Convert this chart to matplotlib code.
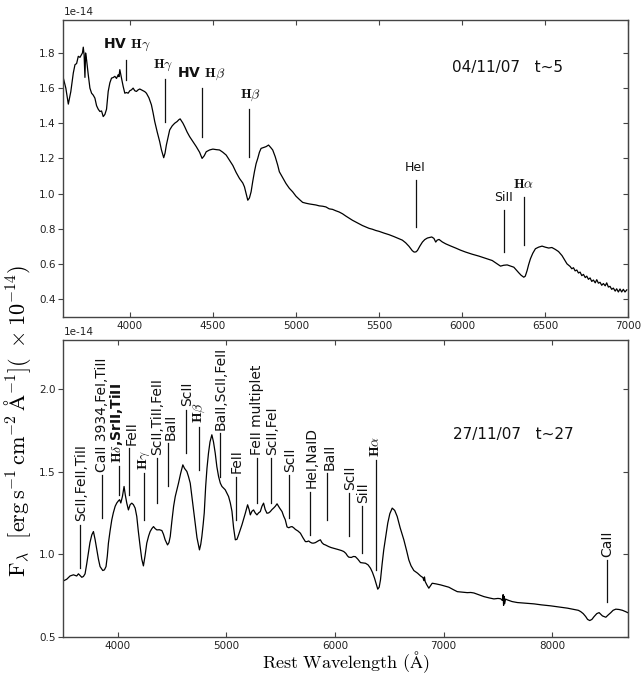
import matplotlib
matplotlib.use("Agg")
import matplotlib.pyplot as plt
from matplotlib.ticker import ScalarFormatter, NullFormatter, FixedLocator

plt.rcParams['mathtext.fontset'] = 'cm'
plt.rcParams['axes.unicode_minus'] = False
plt.rcParams['font.family'] = ['DejaVu Sans']

# ---------------- data (flux in units of 1e-14) ----------------
wave_top = [3600, 3615, 3630, 3645, 3660, 3670, 3680, 3690, 3700, 3710, 3715, 3720, 3725, 3730, 3734,
            3740, 3750, 3760, 3770, 3780, 3790, 3800, 3810, 3820, 3830, 3840, 3850, 3860, 3870, 3880,
            3890, 3900, 3910, 3920, 3930, 3935, 3940, 3945, 3950, 3960, 3970, 3980, 3990, 4000, 4010,
            4020, 4030, 4040, 4050, 4060, 4070, 4080, 4090, 4100, 4115, 4130, 4140, 4150, 4165, 4180,
            4190, 4204, 4212, 4220, 4230, 4240, 4255, 4270, 4285, 4295, 4303, 4310, 4320, 4330, 4345,
            4360, 4380, 4400, 4420, 4435, 4448, 4460, 4480, 4500, 4520, 4540, 4560, 4580, 4600, 4620,
            4640, 4660, 4680, 4690, 4700, 4710, 4720, 4730, 4740, 4750, 4760, 4770, 4780, 4790, 4805,
            4820, 4835, 4848, 4860, 4875, 4890, 4900, 4920, 4940, 4960, 4980, 5000, 5020, 5040, 5060,
            5080, 5100, 5120, 5140, 5160, 5180, 5200, 5220, 5240, 5260, 5280, 5300, 5320, 5340, 5360,
            5380, 5400, 5420, 5440, 5460, 5480, 5500, 5530, 5560, 5590, 5620, 5640, 5660, 5680, 5700,
            5711, 5722, 5731, 5745, 5761, 5775, 5791, 5805, 5817, 5830, 5841, 5850, 5861, 5880, 5901,
            5930, 5961, 5990, 6021, 6060, 6101, 6140, 6181, 6210, 6231, 6250, 6271, 6290, 6311, 6325,
            6341, 6355, 6371, 6380, 6391, 6400, 6411, 6425, 6441, 6460, 6481, 6500, 6521, 6540, 6561,
            6580, 6601, 6615, 6631, 6650, 6660, 6670, 6680, 6690, 6700, 6710, 6720, 6730, 6741, 6750,
            6760, 6770, 6780, 6790, 6801, 6810, 6820, 6830, 6840, 6850, 6861, 6870, 6880, 6890, 6900,
            6910, 6921, 6930, 6940, 6950, 6960, 6970, 6980, 6991]
flux_top = [1.657, 1.60, 1.509, 1.58, 1.686, 1.733, 1.74, 1.781, 1.775, 1.791, 1.80, 1.833, 1.79, 1.661, 1.80,
            1.76, 1.676, 1.60, 1.571, 1.56, 1.543, 1.50, 1.48, 1.467, 1.47, 1.438, 1.45, 1.48, 1.581, 1.63,
            1.657, 1.66, 1.667, 1.655, 1.676, 1.665, 1.705, 1.68, 1.657, 1.61, 1.571, 1.575, 1.571, 1.585, 1.59,
            1.600, 1.585, 1.581, 1.59, 1.595, 1.590, 1.585, 1.58, 1.571, 1.545, 1.505, 1.46, 1.410, 1.35, 1.295,
            1.25, 1.204, 1.23, 1.276, 1.32, 1.362, 1.385, 1.400, 1.41, 1.42, 1.425, 1.415, 1.40, 1.381, 1.35,
            1.324, 1.295, 1.267, 1.235, 1.200, 1.215, 1.238, 1.248, 1.253, 1.25, 1.248, 1.235, 1.219, 1.19, 1.16,
            1.12, 1.086, 1.06, 1.038, 1.00, 0.962, 0.975, 1.010, 1.07, 1.124, 1.17, 1.20, 1.235, 1.257, 1.262,
            1.267, 1.276, 1.262, 1.248, 1.21, 1.162, 1.124, 1.09, 1.057, 1.03, 1.010, 0.985, 0.967, 0.950, 0.945,
            0.941, 0.938, 0.935, 0.930, 0.928, 0.924, 0.913, 0.910, 0.902, 0.895, 0.885, 0.872, 0.860, 0.848, 0.838,
            0.828, 0.818, 0.810, 0.802, 0.797, 0.790, 0.785, 0.775, 0.766, 0.755, 0.743, 0.735, 0.720, 0.700, 0.675,
            0.667, 0.668, 0.676, 0.700, 0.724, 0.738, 0.747, 0.750, 0.753, 0.745, 0.724, 0.735, 0.739, 0.725, 0.714,
            0.702, 0.690, 0.678, 0.667, 0.655, 0.644, 0.632, 0.619, 0.600, 0.587, 0.592, 0.594, 0.588, 0.581, 0.566,
            0.549, 0.535, 0.524, 0.530, 0.562, 0.595, 0.629, 0.660, 0.686, 0.695, 0.701, 0.695, 0.690, 0.693, 0.682,
            0.670, 0.647, 0.625, 0.600, 0.585, 0.572, 0.578, 0.560, 0.565, 0.548, 0.553, 0.533, 0.540, 0.522, 0.530,
            0.512, 0.520, 0.500, 0.508, 0.492, 0.510, 0.490, 0.495, 0.478, 0.488, 0.475, 0.492, 0.468, 0.472, 0.455,
            0.462, 0.445, 0.458, 0.440, 0.457, 0.440, 0.455, 0.440, 0.452]

wave_bot = [3500, 3531, 3562, 3593, 3623, 3639, 3655, 3670, 3685, 3700, 3715, 3730, 3745, 3762, 3777,
            3792, 3808, 3823, 3838, 3863, 3878, 3893, 3905, 3915, 3930, 3946, 3960, 3977, 3992, 4007,
            4018, 4029, 4044, 4059, 4070, 4084, 4099, 4115, 4130, 4145, 4161, 4176, 4190, 4207, 4222,
            4237, 4252, 4268, 4285, 4299, 4315, 4330, 4345, 4361, 4385, 4407, 4422, 4437, 4459, 4472,
            4484, 4499, 4515, 4530, 4545, 4560, 4580, 4600, 4615, 4637, 4652, 4668, 4683, 4698, 4714,
            4730, 4745, 4753, 4765, 4775, 4787, 4797, 4810, 4822, 4836, 4850, 4867, 4882, 4898, 4913,
            4929, 4945, 4960, 4975, 4990, 5005, 5021, 5037, 5052, 5067, 5083, 5098, 5113, 5144, 5175,
            5196, 5210, 5221, 5236, 5251, 5266, 5282, 5297, 5313, 5328, 5343, 5358, 5374, 5390, 5405,
            5420, 5435, 5451, 5467, 5490, 5513, 5528, 5543, 5559, 5575, 5590, 5605, 5620, 5636, 5660,
            5682, 5705, 5728, 5743, 5758, 5773, 5789, 5804, 5820, 5835, 5850, 5866, 5880, 5896, 5912,
            5942, 5965, 5988, 6030, 6060, 6081, 6100, 6115, 6127, 6150, 6170, 6188, 6210, 6235, 6258,
            6281, 6305, 6327, 6345, 6364, 6380, 6394, 6407, 6419, 6434, 6449, 6468, 6486, 6505, 6527,
            6550, 6573, 6600, 6634, 6660, 6680, 6700, 6726, 6760, 6788, 6810, 6818, 6824, 6830, 6845,
            6864, 6880, 6895, 6930, 6972, 7010, 7048, 7090, 7126, 7170, 7218, 7250, 7279, 7320, 7371,
            7420, 7463, 7500, 7525, 7540, 7548, 7552, 7556, 7562, 7570, 7587, 7630, 7679, 7750, 7832,
            7900, 7986, 8060, 8140, 8200, 8240, 8262, 8285, 8308, 8325, 8345, 8365, 8385, 8410, 8431,
            8447, 8462, 8493, 8515, 8539, 8560, 8585, 8615, 8646, 8675, 8707]
flux_bot = [0.838, 0.848, 0.868, 0.875, 0.868, 0.881, 0.870, 0.860, 0.865, 0.881, 0.940, 1.006, 1.070, 1.117, 1.137,
            1.090, 1.026, 0.970, 0.925, 0.901, 0.905, 0.925, 0.990, 1.067, 1.140, 1.208, 1.250, 1.290, 1.310, 1.323,
            1.330, 1.310, 1.350, 1.410, 1.360, 1.309, 1.268, 1.300, 1.309, 1.300, 1.279, 1.228, 1.140, 1.046, 0.970,
            0.929, 0.990, 1.067, 1.110, 1.137, 1.155, 1.167, 1.155, 1.147, 1.148, 1.143, 1.120, 1.087, 1.056, 1.070,
            1.107, 1.200, 1.290, 1.349, 1.390, 1.430, 1.490, 1.541, 1.520, 1.501, 1.470, 1.430, 1.350, 1.268, 1.188,
            1.100, 1.050, 1.026, 1.060, 1.107, 1.180, 1.250, 1.410, 1.520, 1.612, 1.680, 1.723, 1.680, 1.612, 1.530,
            1.470, 1.430, 1.410, 1.400, 1.390, 1.370, 1.349, 1.310, 1.260, 1.160, 1.087, 1.090, 1.117, 1.178, 1.248,
            1.299, 1.270, 1.238, 1.260, 1.268, 1.250, 1.238, 1.250, 1.258, 1.290, 1.309, 1.270, 1.248, 1.250, 1.258,
            1.270, 1.279, 1.290, 1.305, 1.280, 1.258, 1.230, 1.208, 1.165, 1.160, 1.165, 1.167, 1.160, 1.150, 1.140,
            1.127, 1.100, 1.076, 1.076, 1.080, 1.072, 1.067, 1.067, 1.070, 1.076, 1.082, 1.087, 1.070, 1.060, 1.056,
            1.046, 1.040, 1.036, 1.028, 1.022, 1.016, 1.005, 0.990, 0.982, 0.980, 0.986, 0.985, 0.970, 0.949, 0.947,
            0.945, 0.935, 0.915, 0.890, 0.855, 0.820, 0.788, 0.800, 0.844, 0.940, 1.026, 1.110, 1.188, 1.245, 1.279,
            1.265, 1.228, 1.160, 1.087, 1.020, 0.965, 0.930, 0.901, 0.885, 0.868, 0.858, 0.840, 0.862, 0.835, 0.815,
            0.794, 0.810, 0.824, 0.820, 0.814, 0.807, 0.800, 0.785, 0.773, 0.770, 0.767, 0.768, 0.765, 0.755, 0.743,
            0.735, 0.729, 0.732, 0.730, 0.720, 0.755, 0.690, 0.745, 0.700, 0.728, 0.723, 0.713, 0.707, 0.703, 0.699,
            0.693, 0.687, 0.680, 0.673, 0.665, 0.660, 0.652, 0.640, 0.622, 0.605, 0.598, 0.605, 0.622, 0.640, 0.646,
            0.636, 0.626, 0.618, 0.632, 0.646, 0.660, 0.667, 0.665, 0.660, 0.652, 0.642]

SCALE = 1e-14

# line identifications, top panel
top_labels = [r'HV $\mathbf{H}\gamma$', r'$\mathbf{H}\gamma$', r'HV $\mathbf{H}\beta$', r'$\mathbf{H}\beta$',
              'HeI', 'SiII', r'$\mathbf{H}\alpha$']
top_wave = [3980, 4210, 4434, 4720, 5720, 6251, 6374]
top_text_wave = [3980, 4200, 4430, 4724, 5720, 6247, 6371]
top_y1 = [1.647, 1.410, 1.324, 1.21, 0.810, 0.667, 0.709]
top_y2 = [1.762, 1.651, 1.600, 1.48, 1.076, 0.905, 0.981]
top_bold = [True, True, True, True, False, False, True]

# line identifications, bottom panel
bot_labels = ['ScII,FeII,TiII', 'CaII 3934,FeI,TiII', r'$\mathbf{H}\delta$,SrII,TiII', 'FeII',
              r'$\mathbf{H}\gamma$', 'ScII,TiII,FeII', 'BaII', 'ScII', r'$\mathbf{H}\beta$',
              'BaII,ScII,FeII', 'FeII', 'FeII multiplet', 'ScII,FeI', 'ScII', 'HeI,NaID',
              'BaII', 'ScII', 'SiII', r'$\mathbf{H}\alpha$', 'CaII']
bot_wave = [3654, 3854, 4013, 4109, 4244, 4366, 4462, 4631, 4751, 4944, 5092, 5282, 5411, 5580, 5769,
            5928, 6127, 6250, 6382, 8502]
bot_text_wave = [3663, 3854, 3992, 4124, 4244, 4361, 4484, 4637, 4753, 4944, 5098, 5282, 5421, 5590, 5789,
                 5952, 6136, 6259, 6373, 8508]
bot_y1 = [0.915, 1.22, 1.359, 1.359, 1.208, 1.309, 1.410, 1.612, 1.511, 1.470, 1.208, 1.309, 1.309, 1.218,
          1.117, 1.208, 1.111, 1.008, 0.905, 0.713]
bot_y2 = [1.178, 1.48, 1.531, 1.642, 1.491, 1.582, 1.673, 1.875, 1.773, 1.735, 1.470, 1.582, 1.582, 1.48,
          1.379, 1.491, 1.370, 1.289, 1.571, 0.965]
bot_bold = [False, False, True, False, True, False, False, False, True, False, False, False, False, False,
            False, False, False, False, True, False]

# ---------------- figure ----------------
fig = plt.figure(figsize=(6.41, 6.75), dpi=100)
ax1 = fig.add_axes([0.0988, 0.531, 0.8814, 0.440])
ax2 = fig.add_axes([0.0988, 0.0567, 0.8814, 0.4403])

spine_col = '#444444'
lab_col = '#222222'


def style(ax, yticks):
    for s in ax.spines.values():
        s.set_color(spine_col)
        s.set_linewidth(1.0)
    ax.yaxis.set_major_locator(FixedLocator([v * SCALE for v in yticks]))
    fmt = ScalarFormatter(useMathText=False)
    ax.yaxis.set_major_formatter(fmt)
    ax.tick_params(axis='x', direction='in', top=True, bottom=True, length=3.5, width=0.8,
                   color=spine_col, labelsize=7.5, labelcolor=lab_col, pad=3)
    ax.tick_params(axis='y', direction='out', left=True, right=False, length=3.5, width=0.8,
                   color=spine_col, labelsize=7.5, labelcolor=lab_col, pad=2)
    ax.yaxis.get_offset_text().set_fontsize(7.5)
    ax.yaxis.get_offset_text().set_color(lab_col)
    sec = ax.secondary_yaxis('right')
    sec.yaxis.set_major_locator(FixedLocator([v * SCALE for v in yticks]))
    sec.yaxis.set_major_formatter(NullFormatter())
    sec.tick_params(axis='y', direction='in', length=3.5, width=0.8, color=spine_col)
    sec.spines['right'].set_color(spine_col)


# top panel
ax1.plot(wave_top, [f * SCALE for f in flux_top], color='black', lw=0.9)
ax1.set_xlim(3600, 7000)
ax1.set_ylim(0.3 * SCALE, 1.99 * SCALE)
ax1.set_xticks([4000, 4500, 5000, 5500, 6000, 6500, 7000])
style(ax1, [0.4, 0.6, 0.8, 1.0, 1.2, 1.4, 1.6, 1.8])

for lab, w, tw, y1, y2, b in zip(top_labels, top_wave, top_text_wave, top_y1, top_y2, top_bold):
    ax1.plot([w, w], [y1 * SCALE, y2 * SCALE], color='#111111', lw=0.9)
    ax1.text(tw, (y2 + 0.035) * SCALE, lab, ha='center', va='bottom', fontsize=10 if b else 9,
             fontweight='bold' if b else 'normal', color='#111111')
ax1.text(0.688, 0.838, '04/11/07   t~5', transform=ax1.transAxes, fontsize=11, color='#111111',
         ha='left', va='center')

# bottom panel
ax2.plot(wave_bot, [f * SCALE for f in flux_bot], color='black', lw=0.9)
ax2.set_xlim(3500, 8700)
ax2.set_ylim(0.5 * SCALE, 2.3 * SCALE)
ax2.set_xticks([4000, 5000, 6000, 7000, 8000])
style(ax2, [0.5, 1.0, 1.5, 2.0])

for lab, w, tw, y1, y2, b in zip(bot_labels, bot_wave, bot_text_wave, bot_y1, bot_y2, bot_bold):
    ax2.plot([w, w], [y1 * SCALE, y2 * SCALE], color='#111111', lw=0.9)
    ax2.text(tw, (y2 + 0.02) * SCALE, lab, ha='center', va='bottom', rotation=90, fontsize=10,
             fontweight='bold' if b else 'normal', color='#111111', clip_on=False)
ax2.text(0.69, 0.68, '27/11/07   t~27', transform=ax2.transAxes, fontsize=11, color='#111111',
         ha='left', va='center')

fig.text(0.54, 0.0095, r'$\mathrm{Rest\ Wavelength\ (\AA)}$', fontsize=13, ha='center', va='baseline')
fig.text(0.028, 0.376,
         r'$\mathrm{F}_\lambda\ \ [\mathrm{erg\,s^{-1}\,cm^{-2}\,\AA^{-1}}](\ \times 10^{-14})$',
         rotation=90, ha='center', va='center', fontsize=16)

fig.savefig('out.png', dpi=100)
